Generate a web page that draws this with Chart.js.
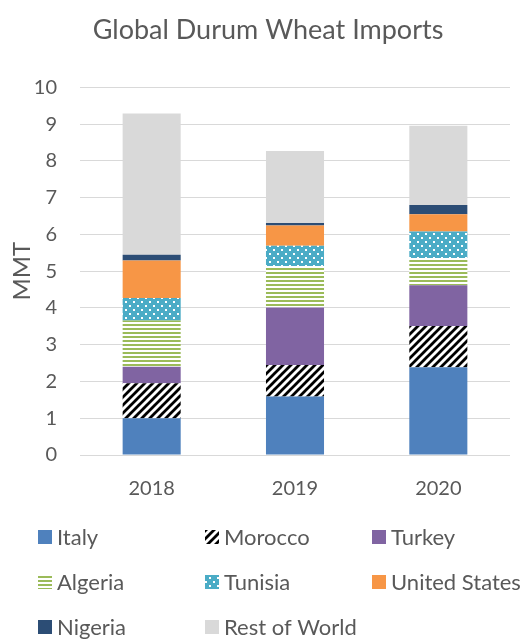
<!DOCTYPE html>
<html>
<head>
<meta charset="utf-8">
<script src="https://cdn.jsdelivr.net/npm/chart.js@4/dist/chart.umd.min.js"></script>
<style>
  html, body { margin: 0; padding: 0; background: #fff; }
  #wrap { width: 522px; height: 639px; }
</style>
</head>
<body>
<div id="wrap"><canvas id="myChart" width="522" height="639"></canvas></div>
<script>
const years = ["2018", "2019", "2020"];

const italy = [1.00, 1.59, 2.39];
const morocco = [0.95, 0.86, 1.12];
const turkey = [0.45, 1.56, 1.11];
const algeria = [1.26, 1.13, 0.74];
const tunisia = [0.61, 0.55, 0.72];
const unitedStates = [1.02, 0.55, 0.47];
const nigeria = [0.16, 0.07, 0.25];
const restOfWorld = [3.84, 1.96, 2.16];

const FONT = "Lato, 'Open Sans', sans-serif";
const TEXT = "#595959";

// small tile patterns, like the Excel fills
function makePattern(size, draw) {
    const c = document.createElement("canvas");
    c.width = size;
    c.height = size;
    const g = c.getContext("2d");
    draw(g, size);
    return g.createPattern(c, "repeat");
}

const moroccoFill = makePattern(8, (g, s) => {
    g.fillStyle = "#fff";
    g.fillRect(0, 0, s, s);
    g.strokeStyle = "#000";
    g.lineWidth = 2.8;
    g.lineCap = "square";
    for (let k = -s; k <= 2 * s; k += s) {
        g.beginPath();
        g.moveTo(k - s, s);
        g.lineTo(k + s, -s);
        g.stroke();
    }
});

const algeriaFill = makePattern(4, (g, s) => {
    g.fillStyle = "#fff";
    g.fillRect(0, 0, s, s);
    g.fillStyle = "#9BBB59";
    g.fillRect(0, 0, s, 2);
});

const tunisiaFill = makePattern(8, (g, s) => {
    g.fillStyle = "#4BACC6";
    g.fillRect(0, 0, s, s);
    g.fillStyle = "#fff";
    g.fillRect(1, 1, 2, 2);
    g.fillRect(5, 5, 2, 2);
});

const datasets = [
    { label: "Italy", data: italy, backgroundColor: "#4F81BD" },
    { label: "Morocco", data: morocco, backgroundColor: moroccoFill },
    { label: "Turkey", data: turkey, backgroundColor: "#8064A2" },
    { label: "Algeria", data: algeria, backgroundColor: algeriaFill },
    { label: "Tunisia", data: tunisia, backgroundColor: tunisiaFill },
    { label: "United States", data: unitedStates, backgroundColor: "#F79646" },
    { label: "Nigeria", data: nigeria, backgroundColor: "#2C4D75" },
    { label: "Rest of World", data: restOfWorld, backgroundColor: "#D9D9D9" }
];

// legend in three fixed columns, drawn under the axis
const gridLegend = {
    id: "gridLegend",
    afterDraw(chart) {
        const ctx = chart.ctx;
        const colX = [38, 205, 372];
        const rowY = [537, 582, 627];
        ctx.save();
        ctx.font = "22px " + FONT;
        ctx.textBaseline = "middle";
        ctx.textAlign = "left";
        chart.data.datasets.forEach((ds, i) => {
            const x = colX[i % 3];
            const y = rowY[Math.floor(i / 3)];
            ctx.fillStyle = ds.backgroundColor;
            ctx.fillRect(x, y - 7, 14, 14);
            ctx.fillStyle = TEXT;
            ctx.fillText(ds.label, x + 19, y + 1);
        });
        ctx.restore();
    }
};

new Chart(document.getElementById("myChart"), {
    type: "bar",
    data: { labels: years, datasets: datasets },
    plugins: [gridLegend],
    options: {
        responsive: false,
        animation: false,
        layout: { padding: { left: 26, right: 12, top: 6, bottom: 124 } },
        datasets: { bar: { barPercentage: 0.405, categoryPercentage: 1.0 } },
        plugins: {
            legend: { display: false },
            tooltip: { enabled: false },
            title: {
                display: true,
                text: "Global Durum Wheat Imports",
                color: TEXT,
                font: { family: FONT, size: 27, weight: "normal" },
                padding: { top: 8, bottom: 41 }
            }
        },
        scales: {
            x: {
                stacked: true,
                grid: { display: false },
                border: { display: false },
                ticks: { color: TEXT, font: { family: FONT, size: 20 }, padding: 14 }
            },
            y: {
                stacked: true,
                min: 0,
                max: 10,
                afterFit(scale) { scale.width = 54; },
                ticks: { stepSize: 1, color: TEXT, font: { family: FONT, size: 20 }, padding: 23 },
                grid: { color: "#D9D9D9", lineWidth: 1, drawTicks: false },
                border: { display: false },
                title: {
                    display: true,
                    text: "MMT",
                    color: TEXT,
                    font: { family: FONT, size: 24 },
                    padding: { top: -18, bottom: 0 }
                }
            }
        }
    }
});
</script>
</body>
</html>
